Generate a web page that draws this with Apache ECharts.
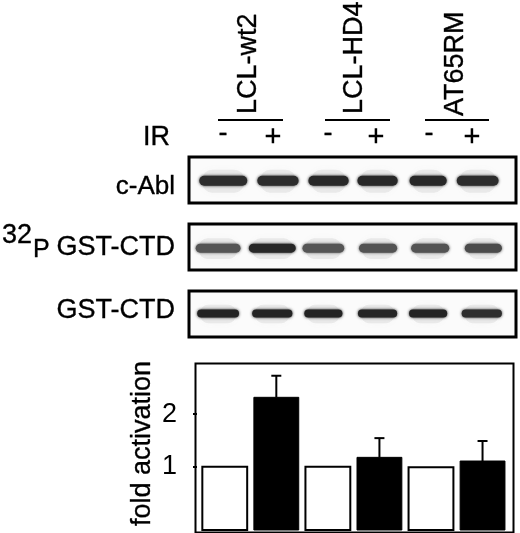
<!DOCTYPE html>
<html><head><meta charset="utf-8">
<style>html,body{margin:0;padding:0;background:#fff}#c{width:520px;height:533px;filter:blur(0.35px)}</style>
<script src="https://cdn.jsdelivr.net/npm/echarts@6/dist/echarts.min.js"></script>
</head><body><div id="c"></div>
<script>
const lanes = ['LCL-wt2 -','LCL-wt2 +','LCL-HD4 -','LCL-HD4 +','AT65RM -','AT65RM +'];
const groups = ['LCL-wt2','LCL-HD4','AT65RM'];
const irSigns = ['-','+','-','+','-','+'];
const yTicks = [1,2];
const foldActivation = [1,2.32,1,1.18,0.99,1.11];
const foldError = [0,0.41,0,0.365,0,0.38];
// band read-offs: lane position, width (lane units), darkness (0-1)
const cAblPos = [-0.03,1.03,2.01,2.96,3.94,4.90];
const cAblWidth = [0.93,0.80,0.78,0.78,0.72,0.81];
const cAblDark = [0.8,0.8,0.85,0.85,0.85,0.8];
const p32Pos = [-0.13,0.92,1.91,2.97,3.98,5.01];
const p32Width = [0.87,0.91,0.81,0.74,0.74,0.72];
const p32Dark = [0.4,0.85,0.4,0.42,0.42,0.5];
const gstPos = [-0.13,0.92,1.91,2.96,3.94,4.98];
const gstWidth = [0.81,0.78,0.74,0.76,0.74,0.78];
const gstDark = [0.9,0.9,0.9,0.88,0.9,0.8];

const FONT = '"Liberation Sans", Arial, sans-serif';
const chart = echarts.init(document.getElementById('c'), null, {renderer:'canvas', width:520, height:533});

const blotRects = [[189,157,327,46],[189,224,327,46],[189,291,327,46]];
const bandH = [10,9,8];
const grids = blotRects.map(r => ({left:r[0],top:r[1],width:r[2],height:r[3],show:true,
  backgroundColor:'#fbfbfb',borderColor:'#000',borderWidth:3}));
grids.push({left:193,top:361,width:318,height:169,show:false});

const hiddenX = i => ({type:'value',gridIndex:i,min:-0.694,max:5.643,show:false});
const hiddenY = i => ({type:'value',gridIndex:i,min:-1,max:1,show:false});

function bandSeries(idx,pos,w,d,yVal){
  return {type:'custom',xAxisIndex:idx,yAxisIndex:idx,clip:true,
    data:pos.map((p,i)=>[p,yVal,w[i],d[i]]),
    renderItem(params,api){
      const c = api.coord([api.value(0),api.value(1)]);
      const width = api.size([api.value(2),0])[0];
      const k = api.value(3), h = bandH[idx];
      const v = Math.round(125-100*k);
      const col = 'rgb('+v+','+v+','+v+')';
      return {type:'group',children:[
        {type:'rect',shape:{x:c[0]-width/2+3,y:c[1]-h*1.1,width:width-6,height:h*2.3,r:h},
         style:{fill:'rgba(150,150,150,0.15)',shadowBlur:7,shadowColor:'rgba(150,150,150,0.3)'}},
        {type:'rect',shape:{x:c[0]-width/2,y:c[1]-h/2,width:width,height:h,r:h/2},
         style:{fill:col,shadowBlur:3,shadowColor:col}}
      ]};
    }};
}

const txt = (text,x,y,size,align,extra) => Object.assign({type:'text',x:x,y:y,z:5,
  style:{text:text,fill:'#000',stroke:'#000',lineWidth:0.35,font:size+'px '+FONT,textAlign:align||'left',textVerticalAlign:'middle'}},extra||{});

const option = {
  animation:false,
  backgroundColor:'#fff',
  grid:grids,
  xAxis:[hiddenX(0),hiddenX(1),hiddenX(2),{type:'value',gridIndex:3,min:-0.616,max:5.552,show:false}],
  yAxis:[hiddenY(0),hiddenY(1),hiddenY(2),{
    type:'value',gridIndex:3,min:-0.2,max:3.01,
    splitLine:{show:false},
    axisLine:{show:false,onZero:false},
    axisTick:{show:true,inside:true,length:4,customValues:yTicks,lineStyle:{color:'#000',width:2}},
    axisLabel:{customValues:yTicks,color:'#000',fontSize:27,fontFamily:FONT,margin:16,formatter:v=>String(v)}
  }],
  series:[
    bandSeries(0,cAblPos,cAblWidth,cAblDark,-0.03),
    bandSeries(1,p32Pos,p32Width,p32Dark,-0.05),
    bandSeries(2,gstPos,gstWidth,gstDark,0.02),
    {type:'custom',xAxisIndex:3,yAxisIndex:3,clip:false,
     data:foldActivation.map((v,i)=>[i,v,foldError[i]]),
     renderItem(params,api){
       const i=api.value(0), v=api.value(1), e=api.value(2);
       const top=api.coord([i,v]), base=api.coord([i,-0.2]);
       const w=api.size([0.87,0])[0];
       const black = i%2===1;
       const kids=[{type:'rect',shape:{x:top[0]-w/2,y:top[1],width:w,height:base[1]-top[1]},
         style:{fill:black?'#000':'#fff',stroke:'#000',lineWidth:black?1:2}}];
       if(e>0){
         const t=api.coord([i,v+e]);
         kids.push({type:'line',shape:{x1:t[0],y1:top[1],x2:t[0],y2:t[1]},style:{stroke:'#000',lineWidth:2}});
         kids.push({type:'line',shape:{x1:t[0]-5,y1:t[1],x2:t[0]+5,y2:t[1]},style:{stroke:'#000',lineWidth:2}});
       }
       return {type:'group',children:kids};
     }}
  ],
  graphic:{elements:[
    {type:'rect',left:193,top:361,shape:{width:318,height:169},z:10,silent:true,style:{fill:'none',stroke:'#000',lineWidth:2}},
    ...groups.map((g,i)=>txt(g,[249,355,456][i],[114,114,116][i],27,'left',{rotation:Math.PI/2})),
    txt('fold activation',143,526,27,'left',{rotation:Math.PI/2}),
    ...[[218,283],[325,390],[425,489]].map(s=>({type:'line',shape:{x1:s[0],y1:120,x2:s[1],y2:120},style:{stroke:'#000',lineWidth:2}})),
    txt('IR',143,138,27),
    ...irSigns.map((s,i)=>txt(s,[223,273,328,376,429,472][i],s==='-'?134:138,s==='-'?27:29,'center')),
    txt('c-Abl',175,187,26,'right'),
    txt('GST-CTD',175,248,27,'right'),
    txt('GST-CTD',175,311,27,'right'),
    txt('32',2,236,27),
    txt('P',33,250,25)
  ]}
};
chart.setOption(option);
</script></body></html>
